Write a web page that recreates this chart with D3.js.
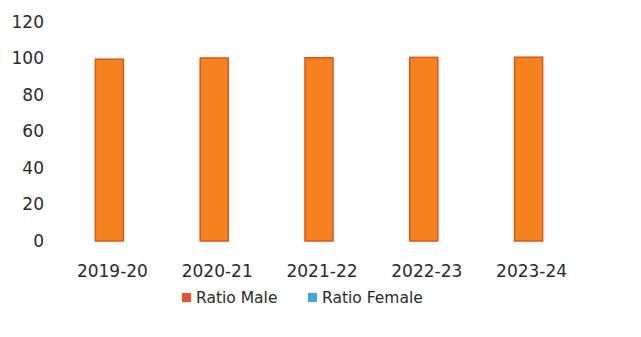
<!DOCTYPE html>
<html><head><meta charset="utf-8">
<script src="https://cdn.jsdelivr.net/npm/d3@7"></script>
<style>body{margin:0;background:#fff}</style>
</head><body><svg id="c" width="641" height="337"></svg>
<script>
const categories = ["2019-20","2020-21","2021-22","2022-23","2023-24"];
const ratioMale = [99.6, 100.3, 100.4, 100.6, 100.7];
const ratioFemale = [0, 0, 0, 0, 0];
const yTicks = [0,20,40,60,80,100,120];
const seriesNames = ["Ratio Male","Ratio Female"];
const colors = ["#F5821F","#2E9FE0"];
const strokes = ["#DC5418","#1F7FBF"];

const svg = d3.select("#c");
const x = d3.scaleBand().domain(categories).range([61, 585]);
const y = d3.scaleLinear().domain([0,120]).range([241, 22]);
const font = "'DejaVu Sans', sans-serif";

// y axis labels
const yAxis = d3.axisLeft(y).tickValues(yTicks).tickSize(0).tickPadding(0);
const ga = svg.append("g").attr("transform","translate(44,0)").call(yAxis);
ga.select(".domain").remove();
ga.selectAll("text").attr("font-family",font).attr("font-size",17).attr("fill","#2a2a2a");

// x axis labels
const xAxis = d3.axisBottom(x).tickSize(0).tickPadding(0);
const gx = svg.append("g").attr("transform","translate(-1,265)").call(xAxis);
gx.select(".domain").remove();
gx.selectAll("text").attr("font-family",font).attr("font-size",17).attr("fill","#2a2a2a");

const bw = 28;
const data = [ratioMale, ratioFemale];
data.forEach((vals, si) => {
  svg.append("g").selectAll("rect").data(vals).join("rect")
    .attr("x", (d,i) => x(categories[i]) + x.bandwidth()/2 - 18 + si*bw)
    .attr("y", d => y(d))
    .attr("width", bw)
    .attr("height", d => y(0) - y(d))
    .attr("fill", colors[si])
    .attr("stroke", d => d > 0 ? strokes[si] : "none")
    .attr("stroke-width", 1.5);
});

// legend
const leg = svg.append("g").attr("transform","translate(182,298)");
const legX = [0, 126];
seriesNames.forEach((n, i) => {
  leg.append("rect").attr("x", legX[i]).attr("y", -5).attr("width", 9).attr("height", 9).attr("fill", i===0 ? "#E8502A" : "#3AA8E8");
  leg.append("text").attr("x", legX[i]+14).attr("y", 0).attr("dy","0.35em")
    .attr("font-family",font).attr("font-size",15.5).attr("fill","#2a2a2a").text(n);
});
</script></body></html>
